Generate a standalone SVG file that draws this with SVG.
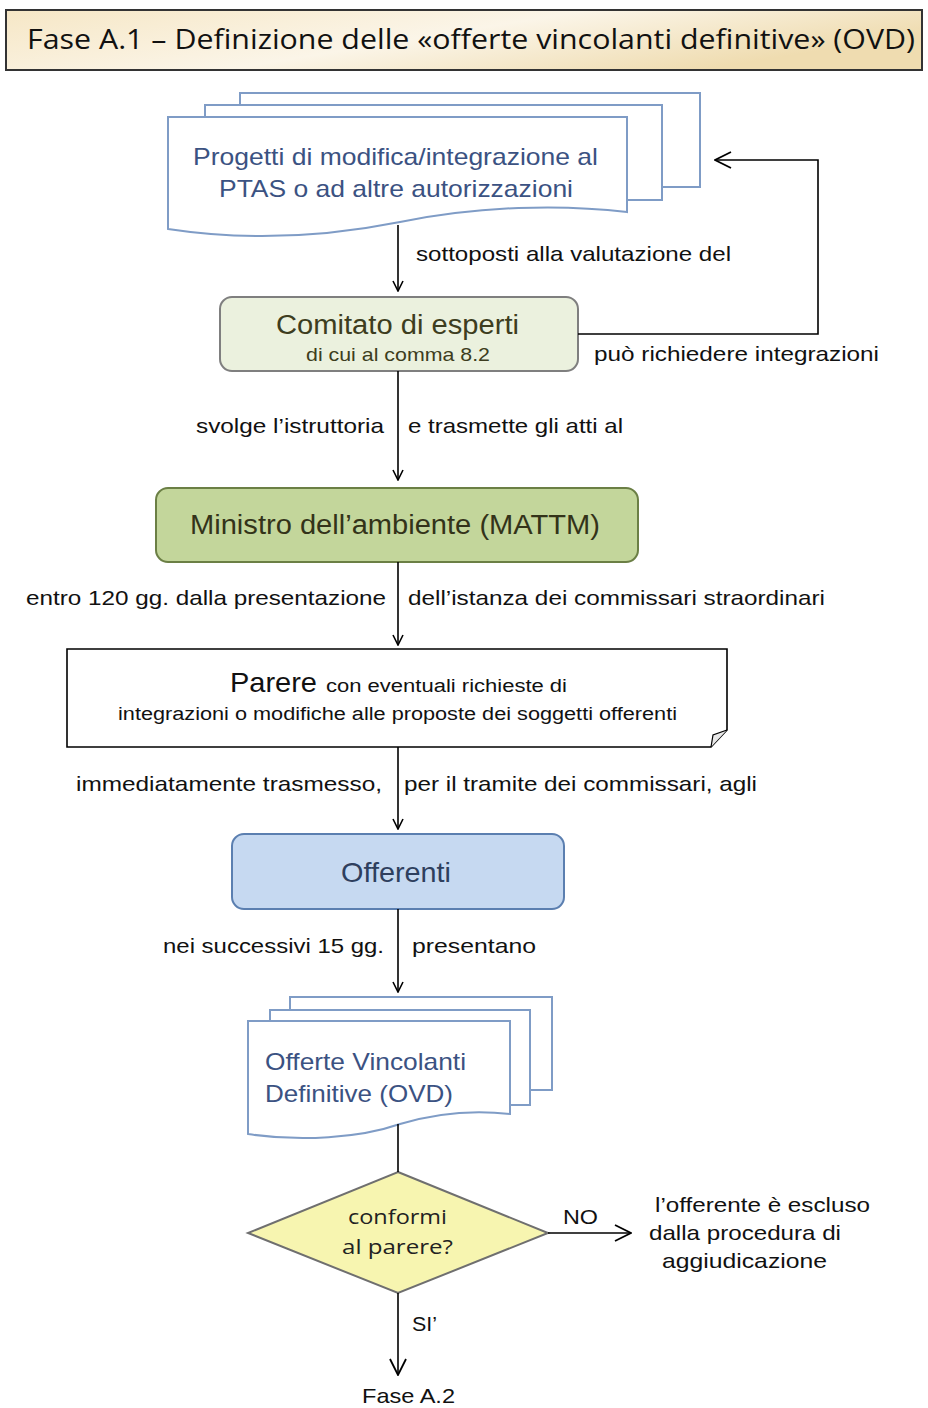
<svg xmlns="http://www.w3.org/2000/svg" width="928" height="1408" viewBox="0 0 928 1408">
<defs>
<linearGradient id="tg" x1="0" y1="0" x2="1" y2="0.4">
<stop offset="0" stop-color="#f6e7c6"/>
<stop offset="0.55" stop-color="#fbf5e8"/>
<stop offset="1" stop-color="#efdcb0"/>
</linearGradient>
<marker id="arr" viewBox="0 0 12 12" refX="11" refY="6" markerWidth="12" markerHeight="12" markerUnits="userSpaceOnUse" orient="auto">
<path d="M1,1 L11,6 L1,11" fill="none" stroke="#000" stroke-width="1.6"/>
</marker>
<marker id="arrL" viewBox="0 0 18 18" refX="17" refY="9" markerWidth="18" markerHeight="18" markerUnits="userSpaceOnUse" orient="auto">
<path d="M1,1 L17,9 L1,17" fill="none" stroke="#000" stroke-width="1.8"/>
</marker>
</defs>
<style>
.lbl{font-family:"Liberation Sans",Arial,sans-serif;font-size:21px;fill:#111}
.doc{fill:#fff;stroke:#7f9cc6;stroke-width:2}
.doct{font-family:"Liberation Sans",Arial,sans-serif;font-size:24px;fill:#3b5282}
.con{fill:none;stroke:#000;stroke-width:1.6}
.nt{font-family:"Liberation Sans",Arial,sans-serif}
</style>
<rect width="928" height="1408" fill="#fff"/>

<g id="title">
<rect x="6" y="10" width="916" height="60" fill="url(#tg)" stroke="#333" stroke-width="2"/>
<text x="27" y="49" font-family="Open Sans,Liberation Sans,sans-serif" font-size="27" fill="#111" textLength="888" lengthAdjust="spacingAndGlyphs">Fase A.1 – Definizione  delle «offerte vincolanti definitive» (OVD)</text>
</g>

<g id="progetti">
<rect class="doc" x="240" y="93" width="460" height="94"/>
<rect class="doc" x="205" y="105" width="457" height="95"/>
<path class="doc" d="M168,117 H627 V212 C560,204 480,206 400,222 C320,238 240,240 168,229 Z"/>
<text class="doct" x="193" y="165" textLength="405" lengthAdjust="spacingAndGlyphs">Progetti di modifica/integrazione  al</text>
<text class="doct" x="219" y="197" textLength="354" lengthAdjust="spacingAndGlyphs">PTAS o ad altre autorizzazioni</text>
</g>

<g id="comitato">
<rect x="220" y="297" width="358" height="74" rx="12" fill="#ebf1de" stroke="#7f7f7f" stroke-width="2"/>
<text class="nt" x="276" y="334" font-size="27" fill="#3d3d20" textLength="243" lengthAdjust="spacingAndGlyphs">Comitato di esperti</text>
<text class="nt" x="306" y="361" font-size="19" fill="#3d3d20" textLength="184" lengthAdjust="spacingAndGlyphs">di cui al comma 8.2</text>
</g>

<g id="ministro">
<rect x="156" y="488" width="482" height="74" rx="12" fill="#c3d69b" stroke="#6b7f45" stroke-width="2"/>
<text class="nt" x="190" y="534" font-size="27" fill="#333319" textLength="410" lengthAdjust="spacingAndGlyphs">Ministro dell’ambiente (MATTM)</text>
</g>

<g id="parere">
<path d="M67,649 H727 V730 L711,747 H67 Z" fill="#fff" stroke="#000" stroke-width="1.6"/>
<path d="M727,730 L713,735 L711,747" fill="#e8e8e8" stroke="#000" stroke-width="1.2"/>
<text class="nt" x="230" y="692" font-size="28" fill="#111" textLength="87" lengthAdjust="spacingAndGlyphs">Parere</text>
<text class="nt" x="326" y="692" font-size="18" fill="#111" textLength="241" lengthAdjust="spacingAndGlyphs">con  eventuali richieste di</text>
<text class="nt" x="118" y="720" font-size="18" fill="#111" textLength="559" lengthAdjust="spacingAndGlyphs">integrazioni o modifiche alle proposte dei soggetti offerenti</text>
</g>

<g id="offerenti">
<rect x="232" y="834" width="332" height="75" rx="12" fill="#c6d9f1" stroke="#5b7fb0" stroke-width="2"/>
<text class="nt" x="341" y="882" font-size="28" fill="#2e3f5e" textLength="110" lengthAdjust="spacingAndGlyphs">Offerenti</text>
</g>

<g id="ovd">
<rect class="doc" x="290" y="997" width="262" height="93"/>
<rect class="doc" x="270" y="1010" width="260" height="95"/>
<path class="doc" d="M248,1021 H510 V1114 C475,1110 440,1112 400,1124 C360,1138 300,1142 248,1134 Z"/>
<text class="doct" x="265" y="1070" textLength="201" lengthAdjust="spacingAndGlyphs">Offerte  Vincolanti</text>
<text class="doct" x="265" y="1102" textLength="188" lengthAdjust="spacingAndGlyphs">Definitive  (OVD)</text>
</g>

<g id="decisione">
<polygon points="398,1172 548,1233 398,1293 248,1233" fill="#f7f5b0" stroke="#6f6f6f" stroke-width="2"/>
<text x="348" y="1224" font-family="Open Sans,Liberation Sans,sans-serif" font-size="20" fill="#222" textLength="99" lengthAdjust="spacingAndGlyphs">conformi</text>
<text x="342" y="1254" font-family="Open Sans,Liberation Sans,sans-serif" font-size="20" fill="#222" textLength="111" lengthAdjust="spacingAndGlyphs">al parere?</text>
</g>

<g id="escluso">
<text class="lbl" x="655" y="1212" font-size="22" textLength="215" lengthAdjust="spacingAndGlyphs">l’offerente è escluso</text>
<text class="lbl" x="649" y="1240" font-size="22" textLength="192" lengthAdjust="spacingAndGlyphs">dalla procedura di</text>
<text class="lbl" x="662" y="1268" font-size="22" textLength="165" lengthAdjust="spacingAndGlyphs">aggiudicazione</text>
</g>

<g id="fasea2">
<text class="lbl" x="362" y="1403" font-size="22" textLength="93" lengthAdjust="spacingAndGlyphs">Fase A.2</text>
</g>

<g id="connectors">
<line class="con" x1="398" y1="225" x2="398" y2="291" marker-end="url(#arr)"/>
<polyline class="con" points="578,334 818,334 818,160 715,160" marker-end="url(#arrL)"/>
<line class="con" x1="398" y1="371" x2="398" y2="480" marker-end="url(#arr)"/>
<line class="con" x1="398" y1="562" x2="398" y2="645" marker-end="url(#arr)"/>
<line class="con" x1="398" y1="747" x2="398" y2="829" marker-end="url(#arr)"/>
<line class="con" x1="398" y1="909" x2="398" y2="992" marker-end="url(#arr)"/>
<line class="con" x1="398" y1="1124" x2="398" y2="1172"/>
<line class="con" x1="548" y1="1233" x2="631" y2="1233" marker-end="url(#arrL)"/>
<line class="con" x1="398" y1="1293" x2="398" y2="1375" marker-end="url(#arrL)"/>
<text class="lbl" x="416" y="261" textLength="315" lengthAdjust="spacingAndGlyphs">sottoposti alla valutazione del</text>
<text class="lbl" x="594" y="361" textLength="285" lengthAdjust="spacingAndGlyphs">può richiedere integrazioni</text>
<text class="lbl" x="384" y="433" text-anchor="end" textLength="188" lengthAdjust="spacingAndGlyphs">svolge l’istruttoria</text>
<text class="lbl" x="408" y="433" textLength="215" lengthAdjust="spacingAndGlyphs">e trasmette gli atti al</text>
<text class="lbl" x="386" y="605" text-anchor="end" textLength="360" lengthAdjust="spacingAndGlyphs">entro 120 gg. dalla presentazione</text>
<text class="lbl" x="408" y="605" textLength="417" lengthAdjust="spacingAndGlyphs">dell’istanza dei commissari straordinari</text>
<text class="lbl" x="382" y="791" text-anchor="end" textLength="306" lengthAdjust="spacingAndGlyphs">immediatamente trasmesso,</text>
<text class="lbl" x="404" y="791" textLength="353" lengthAdjust="spacingAndGlyphs">per il tramite dei commissari, agli</text>
<text class="lbl" x="384" y="953" text-anchor="end" textLength="221" lengthAdjust="spacingAndGlyphs">nei successivi 15 gg.</text>
<text class="lbl" x="412" y="953" textLength="124" lengthAdjust="spacingAndGlyphs">presentano</text>
<text class="lbl" x="563" y="1224" textLength="35" lengthAdjust="spacingAndGlyphs">NO</text>
<text class="lbl" x="412" y="1331" textLength="25" lengthAdjust="spacingAndGlyphs">SI’</text>
</g>
</svg>
